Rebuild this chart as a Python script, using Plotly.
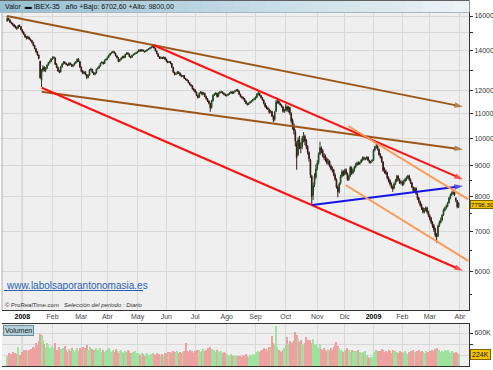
import plotly.graph_objects as go
import pandas as pd

W, H = 493, 370

# ---------------- data (IBEX-35 daily) ----------------
opens = [
    15700, 15850, 15760, 15600, 15550, 15470, 15400, 15310, 15270, 15430, 15360,  # Dic 2007
    15180, 15050, 14900, 14790, 14690, 14750, 14630, 14570, 14460, 14300, 14110, 13960, 13780, 13450, 12500, 12980, 13150, 12980, 13100, 13260, 13390, 13430,  # Ene
    13560, 13630, 13620, 13300, 13140, 12950, 12920, 13170, 13310, 13400, 13340, 13280, 13250, 13340, 13290, 13200, 13270, 13360, 13430, 13550, 13430,  # Feb
    13150, 12960, 12840, 12910, 12770, 12640, 12760, 13010, 13040, 12890, 12790, 12860, 13060, 13110, 13210, 13360, 13390, 13340, 13510,  # Mar
    13560, 13660, 13770, 13860, 13910, 13950, 13870, 13730, 13630, 13460, 13530, 13620, 13710, 13650, 13810, 13890, 13830, 13690, 13660, 13770, 13810, 13870,  # Abr
    13900, 13960, 14040, 13990, 14050, 13980, 13960, 14010, 14070, 14110, 14160, 14210, 14240, 14140, 13990, 13840, 13690, 13610, 13640, 13610, 13650,  # May
    13560, 13440, 13390, 13430, 13340, 13140, 12890, 12790, 12830, 12910, 12840, 12740, 12690, 12730, 12590, 12540, 12490, 12390, 12290, 12240, 12090,  # Jun
    12040, 11940, 11790, 11720, 11910, 11940, 11860, 11890, 11740, 11640, 11540, 11440, 11260, 11560, 11810, 11860, 11890, 11760, 11910, 11940, 11950, 11890, 11840,  # Jul
    11790, 11810, 11860, 11910, 11960, 11890, 11960, 12010, 12060, 11990, 11840, 11740, 11710, 11640, 11540, 11440, 11390, 11460, 11510, 11560, 11610,  # Ago
    11640, 11710, 11840, 11890, 11790, 11690, 11590, 11440, 11310, 11240, 11190, 11060, 11090, 10890, 10760, 11100, 11490, 11540, 11440, 11370, 11290, 11110,  # Sep
    11150, 11290, 11140, 11260, 11000, 10720, 10480, 10250, 9800, 9400, 9950, 9680, 9700, 9980, 10080, 9920, 9690, 9480, 9200, 8650, 8050, 8380, 8620,  # Oct
    8920, 9120, 9420, 9640, 9540, 9340, 9310, 9240, 9090, 9160, 8990, 8890, 8860, 8690, 8540, 8290, 8160, 8420, 8660, 8810,  # Nov
    8710, 8860, 8740, 8540, 8660, 8940, 8760, 8840, 8960, 9040, 9110, 9070, 9130, 9190, 9290, 9240, 9260, 9310, 9190, 9110, 9160,  # Dic
    9200, 9570, 9690, 9710, 9590, 9390, 9310, 9140, 8840, 8810, 8760, 8590, 8510, 8390, 8310, 8260, 8410, 8490, 8660, 8540, 8460,  # Ene 2009
    8440, 8390, 8490, 8540, 8610, 8660, 8540, 8440, 8290, 8170, 8260, 8090, 7960, 7840, 7760, 7660, 7540, 7610, 7660, 7540,  # Feb
    7430, 7360, 7240, 7160, 7060, 6910, 6870, 7160, 7240, 7310, 7460, 7590, 7660, 7710, 7810, 7940, 8060, 8090, 8160, 7950, 7880, 7690,  # Mar
]
highs = [
    15990, 15900, 15800, 15660, 15600, 15520, 15430, 15350, 15460, 15490, 15400,
    15200, 15080, 14950, 14820, 14850, 14780, 14680, 14600, 14480, 14320, 14150, 13990, 13800, 13480, 13050, 13250, 13200, 13150, 13300, 13420, 13500, 13620,
    13700, 13720, 13650, 13350, 13180, 13020, 13200, 13350, 13460, 13450, 13380, 13320, 13400, 13390, 13320, 13300, 13400, 13460, 13600, 13600, 13460,
    13180, 13000, 12950, 12940, 12800, 12800, 13050, 13120, 13060, 12920, 12900, 13080, 13150, 13250, 13380, 13450, 13420, 13540, 13600,
    13700, 13800, 13900, 13960, 14000, 13980, 13900, 13760, 13660, 13560, 13650, 13740, 13740, 13840, 13920, 13920, 13850, 13720, 13800, 13850, 13900, 13950,
    14000, 14090, 14080, 14100, 14070, 14000, 14040, 14100, 14140, 14190, 14240, 14310, 14260, 14160, 14010, 13860, 13720, 13700, 13680, 13700, 13680,
    13580, 13500, 13460, 13460, 13360, 13160, 12920, 12880, 12950, 12940, 12880, 12780, 12760, 12760, 12620, 12580, 12520, 12420, 12330, 12270, 12140,
    12080, 11980, 11830, 11940, 12000, 11970, 11950, 11920, 11780, 11680, 11580, 11460, 11600, 11850, 11900, 11950, 11920, 11940, 12000, 12010, 11990, 11930, 11880,
    11850, 11890, 11940, 11990, 12000, 11980, 12040, 12090, 12100, 12020, 11880, 11780, 11740, 11680, 11580, 11470, 11480, 11540, 11590, 11640, 11700,
    11760, 11900, 11980, 11920, 11820, 11720, 11610, 11470, 11360, 11290, 11210, 11160, 11120, 10920, 11120, 11600, 11620, 11560, 11470, 11400, 11320, 11200,
    11420, 11350, 11330, 11300, 11060, 10800, 10600, 10350, 9900, 10050, 10100, 9850, 10100, 10250, 10150, 9980, 9750, 9520, 9250, 8700, 8450, 8750, 9050,
    9200, 9480, 9880, 9700, 9600, 9450, 9400, 9300, 9250, 9200, 9050, 8980, 8900, 8750, 8580, 8350, 8450, 8700, 8880, 8850,
    8900, 8920, 8780, 8700, 9000, 8980, 8900, 9000, 9100, 9150, 9160, 9150, 9240, 9330, 9330, 9300, 9340, 9330, 9220, 9180, 9240,
    9600, 9720, 9800, 9740, 9620, 9450, 9350, 9160, 8950, 8880, 8800, 8650, 8560, 8450, 8350, 8450, 8560, 8700, 8680, 8580, 8520,
    8500, 8540, 8600, 8650, 8700, 8700, 8580, 8460, 8320, 8300, 8290, 8120, 7990, 7880, 7790, 7680, 7660, 7700, 7700, 7580,
    7480, 7400, 7280, 7200, 7100, 6960, 7180, 7300, 7380, 7480, 7640, 7700, 7760, 7840, 7990, 8100, 8160, 8220, 8180, 7980, 7900, 7830,
]
lows = [
    15650, 15720, 15580, 15500, 15420, 15330, 15250, 15180, 15240, 15340, 15150,
    14980, 14880, 14720, 14620, 14660, 14590, 14520, 14400, 14250, 14080, 13900, 13740, 13550, 12580, 12180, 12900, 12930, 12900, 13050, 13220, 13330, 13400,
    13520, 13580, 13260, 13100, 12920, 12850, 12880, 13120, 13280, 13300, 13250, 13190, 13210, 13260, 13160, 13150, 13230, 13320, 13400, 13420, 13120,
    12900, 12800, 12800, 12740, 12560, 12600, 12730, 12980, 12860, 12760, 12740, 12830, 13030, 13080, 13190, 13330, 13280, 13310, 13480,
    13520, 13620, 13740, 13820, 13880, 13850, 13700, 13600, 13400, 13420, 13500, 13590, 13600, 13620, 13780, 13800, 13660, 13600, 13640, 13740, 13780, 13840,
    13860, 13930, 13960, 13960, 13960, 13910, 13930, 13980, 14040, 14080, 14130, 14180, 14120, 13970, 13820, 13670, 13570, 13580, 13560, 13580, 13520,
    13400, 13350, 13360, 13300, 13100, 12860, 12740, 12760, 12800, 12820, 12700, 12650, 12660, 12560, 12500, 12460, 12360, 12260, 12200, 12060, 11980,
    11900, 11760, 11660, 11690, 11880, 11800, 11830, 11720, 11610, 11500, 11400, 11080, 11220, 11520, 11770, 11820, 11700, 11720, 11870, 11900, 11860, 11800, 11760,
    11740, 11780, 11820, 11880, 11860, 11860, 11930, 11980, 11960, 11820, 11710, 11660, 11610, 11510, 11410, 11350, 11370, 11430, 11480, 11530, 11580,
    11600, 11680, 11800, 11760, 11660, 11560, 11400, 11260, 11190, 11150, 11000, 11020, 10860, 10650, 10700, 11060, 11430, 11400, 11340, 11260, 11050, 11030,
    11100, 11080, 11050, 10950, 10600, 10350, 10150, 9700, 8870, 9350, 9600, 9450, 9600, 9850, 9750, 9600, 9400, 9150, 8600, 7760, 7900, 8300, 8550,
    8850, 9050, 9380, 9450, 9300, 9200, 9150, 9050, 9030, 8950, 8850, 8780, 8650, 8500, 8250, 7980, 8100, 8380, 8600, 8650,
    8680, 8700, 8500, 8500, 8620, 8700, 8720, 8800, 8920, 9000, 9030, 9040, 9100, 9160, 9200, 9200, 9220, 9170, 9090, 9080, 9130,
    9180, 9520, 9620, 9550, 9360, 9260, 9100, 8800, 8740, 8700, 8550, 8450, 8350, 8250, 8150, 8230, 8370, 8460, 8500, 8400, 8380,
    8330, 8350, 8450, 8500, 8560, 8500, 8400, 8260, 8120, 8140, 8060, 7900, 7800, 7700, 7600, 7500, 7500, 7560, 7500, 7400,
    7300, 7200, 7100, 6990, 6850, 6702.6, 6860, 7120, 7220, 7280, 7430, 7560, 7620, 7680, 7790, 7920, 8020, 8060, 8020, 7830, 7650, 7660,
]
closes = [
    15850, 15780, 15620, 15560, 15480, 15390, 15300, 15260, 15420, 15380, 15182,
    15050, 14920, 14780, 14700, 14760, 14640, 14580, 14470, 14290, 14120, 13950, 13780, 13600, 12630, 12950, 13120, 13000, 13080, 13250, 13380, 13420, 13560,
    13620, 13650, 13300, 13150, 12960, 12900, 13160, 13300, 13400, 13350, 13290, 13240, 13350, 13300, 13200, 13260, 13350, 13420, 13560, 13450, 13150,
    12950, 12850, 12900, 12780, 12650, 12750, 13000, 13050, 12900, 12800, 12850, 13050, 13100, 13200, 13350, 13400, 13330, 13500, 13550,
    13650, 13760, 13850, 13900, 13950, 13880, 13740, 13640, 13450, 13520, 13610, 13700, 13640, 13800, 13880, 13840, 13700, 13650, 13760, 13800, 13860, 13900,
    13950, 14050, 14000, 14060, 13990, 13950, 14000, 14060, 14100, 14150, 14200, 14250, 14150, 14000, 13850, 13700, 13600, 13650, 13600, 13660, 13550,
    13450, 13400, 13420, 13350, 13150, 12900, 12800, 12820, 12900, 12850, 12750, 12700, 12720, 12600, 12550, 12500, 12400, 12300, 12250, 12100, 12050,
    11950, 11800, 11700, 11900, 11950, 11850, 11900, 11750, 11650, 11550, 11450, 11250, 11550, 11800, 11850, 11900, 11750, 11900, 11950, 11960, 11900, 11850, 11800,
    11800, 11850, 11900, 11950, 11900, 11950, 12000, 12050, 12000, 11850, 11750, 11700, 11650, 11550, 11450, 11400, 11450, 11500, 11550, 11600, 11650,
    11700, 11850, 11900, 11800, 11700, 11600, 11450, 11300, 11250, 11200, 11050, 11100, 10900, 10750, 11050, 11500, 11550, 11450, 11380, 11300, 11100, 11150,
    11300, 11150, 11280, 11030, 10700, 10500, 10300, 9900, 9300, 9950, 9700, 9650, 10000, 10100, 9900, 9700, 9500, 9250, 8700, 8000, 8350, 8650, 8900,
    9100, 9400, 9650, 9550, 9350, 9300, 9250, 9100, 9150, 9000, 8900, 8850, 8700, 8550, 8300, 8150, 8400, 8650, 8800, 8700,
    8850, 8750, 8550, 8650, 8950, 8750, 8850, 8950, 9050, 9100, 9080, 9120, 9200, 9280, 9250, 9270, 9300, 9200, 9120, 9150, 9196,
    9560, 9680, 9720, 9600, 9400, 9300, 9150, 8850, 8800, 8750, 8600, 8500, 8400, 8300, 8250, 8400, 8500, 8650, 8550, 8450, 8450,
    8400, 8480, 8550, 8600, 8650, 8550, 8450, 8300, 8180, 8250, 8100, 7950, 7850, 7750, 7650, 7550, 7600, 7650, 7550, 7450,
    7350, 7250, 7150, 7050, 6900, 6850, 7150, 7250, 7300, 7450, 7600, 7650, 7700, 7800, 7950, 8050, 8100, 8150, 8050, 7900, 7700, 7798.3,
]
volumes_k = [
    180, 240, 210, 220, 250, 200, 230, 210, 340, 200, 150,
    260, 290, 280, 300, 270, 290, 310, 300, 350, 330, 420, 380, 450, 580, 560, 480, 400, 350, 420, 380, 330, 300,
    360, 330, 420, 300, 280, 340, 310, 270, 330, 360, 290, 260, 310, 280, 330, 300, 250, 290, 320, 270, 330,
    310, 340, 290, 330, 380, 300, 350, 280, 310, 290, 260, 330, 300, 280, 320, 260, 290, 250, 270,
    300, 330, 280, 260, 290, 250, 310, 280, 240, 270, 300, 260, 230, 280, 250, 300, 270, 240, 220, 260, 280, 240,
    230, 210, 200, 240, 220, 190, 210, 230, 200, 180, 220, 240, 210, 200, 230, 190, 210, 180, 220, 200, 230,
    220, 250, 230, 260, 240, 280, 250, 230, 270, 240, 260, 230, 250, 280, 420, 270, 250, 300, 260, 280, 240,
    270, 300, 260, 290, 250, 280, 310, 270, 300, 330, 290, 340, 310, 280, 300, 260, 290, 270, 250, 280, 240, 260, 230,
    220, 200, 190, 210, 180, 200, 170, 190, 180, 160, 190, 170, 200, 180, 210, 190, 170, 200, 180, 220, 200,
    260, 240, 280, 250, 270, 300, 330, 290, 310, 280, 340, 350, 540, 420, 380, 720, 350, 300, 280, 260, 300, 330,
    380, 520, 400, 450, 420, 440, 480, 620, 560, 500, 430, 470, 400, 380, 420, 530, 480, 400, 470, 420, 500, 380, 400,
    350, 320, 400, 310, 290, 330, 300, 280, 310, 290, 330, 300, 340, 380, 430, 360, 320, 300, 280, 260,
    300, 280, 320, 290, 260, 300, 250, 280, 270, 240, 300, 260, 230, 250, 220, 280, 200, 160, 150, 170, 160,
    230, 260, 300, 280, 250, 270, 310, 290, 260, 280, 250, 300, 270, 240, 290, 260, 280, 250, 230, 270, 240,
    250, 230, 270, 240, 220, 260, 280, 240, 300, 250, 230, 270, 290, 260, 280, 250, 240, 270, 230, 260,
    280, 260, 300, 270, 310, 320, 290, 300, 260, 280, 250, 290, 270, 300, 260, 240, 280, 250, 230, 260, 240, 224,
]

# hand-drawn trend lines: (start bar, start price, end bar, end price, colour, arrow)
trendlines = [
    (-0.15, 16000, 332.2, 11298, '#9b5618', True),
    (25.14, 11967, 332.2, 9587, '#9b5618', True),
    (106.48, 14316, 332.2, 8548, '#ff1010', True),
    (25.14, 12152, 332.2, 6021, '#ff1010', True),
    (222.4, 7748, 332.2, 8334, '#1414e6', True),
    (248.6, 10492, 336.1, 7919, '#ff9a55', False),
    (246.7, 8365, 336.1, 6250, '#ff9a55', False),
]

month_names = ['2008', 'Feb', 'Mar', 'Abr', 'May', 'Jun', 'Jul', 'Ago', 'Sep', 'Oct',
               'Nov', 'Dic', '2009', 'Feb', 'Mar', 'Abr']
price_ticks = [16000, 15000, 14000, 13000, 12000, 11000, 10000, 9000, 8000, 7000, 6000]
price_tick_text = ['16000', '', '14000', '', '12000', '11000', '10000', '9000', '8000', '7000', '6000']
minor_price_ticks = [8500, 7500, 6500, 5500]
last_price_label = '7798,30'
last_volume_label = '224K'

# ---------------- trading calendar (bar positions) ----------------
holidays = pd.to_datetime(['2007-12-25', '2007-12-26', '2008-01-01', '2008-03-21', '2008-03-24',
                           '2008-05-01', '2008-12-25', '2008-12-26', '2009-01-01'])
cal = pd.bdate_range('2007-12-13', '2009-04-03')
cal = cal[~cal.isin(holidays)]
n = len(closes)
assert len(opens) == n and len(highs) == n and len(lows) == n and len(volumes_k) == n, (
    len(opens), len(highs), len(lows), len(closes), len(volumes_k))
xs = list(range(n))
month_pos = []
prev = None
for i, d in enumerate(cal):
    key = (d.year, d.month)
    if key != prev and d >= pd.Timestamp('2008-01-01'):
        month_pos.append(i)
    prev = key
month_pos = month_pos[:len(month_names)]
month_text = [('<b><span style="color:#000">%s</span></b>' % m) if m in ('2008', '2009') else m
              for m in month_names]
year_pos = [month_pos[0], month_pos[12]]

# ---------------- figure ----------------
def px(x):
    return x / W

def py(y):
    return 1 - y / H

XR = [-3.8, 336.6]
fig = go.Figure()
fig.add_trace(go.Candlestick(
    x=xs, open=opens, high=highs, low=lows, close=closes,
    increasing=dict(line=dict(color='#1c461c', width=1), fillcolor='#3f9c3f'),
    decreasing=dict(line=dict(color='#3a1414', width=1), fillcolor='#8e2b2b'),
    whiskerwidth=0, xaxis='x', yaxis='y', showlegend=False, hoverinfo='skip'))

for (x0, p0, x1, p1, col, arrow) in trendlines:
    fig.add_trace(go.Scatter(
        x=[x0, x1], y=[p0, p1], mode='lines+markers' if arrow else 'lines',
        line=dict(color=col, width=2),
        marker=dict(symbol=['circle', 'arrow'], size=[0, 9], angleref='previous', color=col,
                    line=dict(width=0)),
        xaxis='x', yaxis='y', showlegend=False, hoverinfo='skip', cliponaxis=False))

vcolors = ['#9de29d' if c >= o else '#efa0a0' for o, c in zip(opens, closes)]
fig.add_trace(go.Bar(x=xs, y=volumes_k, marker=dict(color=vcolors, line=dict(width=0)),
                     width=0.75, xaxis='x2', yaxis='y2', showlegend=False, hoverinfo='skip'))

grid = '#d8d8d8'
fig.update_layout(
    width=W, height=H, margin=dict(l=0, r=0, t=0, b=0),
    paper_bgcolor='white', plot_bgcolor='#efefef', showlegend=False,
    font=dict(family='Liberation Sans, Arial, sans-serif', size=7, color='#333'),
    xaxis=dict(domain=[px(2), px(469)], range=XR, anchor='y', tickmode='array',
               tickvals=month_pos, ticktext=month_text, ticks='', showgrid=True,
               gridcolor=grid, gridwidth=1, showline=True, linecolor='#333', zeroline=False,
               rangeslider=dict(visible=False), tickfont=dict(size=7, color='#444')),
    yaxis=dict(domain=[py(310), 1], type='log', range=[3.71417, 4.23083], side='right',
               anchor='x', tickmode='array', tickvals=price_ticks, ticktext=price_tick_text,
               ticks='outside', ticklen=3, tickcolor='#333', showgrid=True, gridcolor=grid,
               showline=True, linecolor='#333', zeroline=False, tickfont=dict(size=7, color='#333'),
               minor=dict(tickmode='array', tickvals=minor_price_ticks, ticks='outside', ticklen=2,
                          tickcolor='#333', showgrid=False)),
    xaxis2=dict(domain=[px(2), px(469)], range=XR, anchor='y2', tickmode='array',
                tickvals=month_pos, showticklabels=False, ticks='', showgrid=True, gridcolor=grid,
                showline=True, mirror=True, linecolor='#333', zeroline=False),
    yaxis2=dict(domain=[py(366), py(324)], range=[0, 763.6], side='right', anchor='x2',
                tickmode='array', tickvals=[200, 400, 600], ticktext=['', '', '600K'],
                ticks='outside', ticklen=3, tickcolor='#333', showgrid=True, gridcolor=grid,
                showline=True, linecolor='#333', zeroline=False, tickfont=dict(size=7, color='#333')),
    bargap=0,
)

shapes = []
# year separators
for yp in year_pos:
    shapes.append(dict(type='line', xref='x', yref='paper', x0=yp, x1=yp, y0=py(310), y1=py(12),
                       line=dict(color='#9a9a9a', width=1), layer='below'))
    shapes.append(dict(type='line', xref='x2', yref='paper', x0=yp, x1=yp, y0=py(366), y1=py(324),
                       line=dict(color='#9a9a9a', width=1), layer='below'))
# left border
shapes.append(dict(type='line', xref='paper', yref='paper', x0=px(2), x1=px(2), y0=py(310), y1=1,
                   line=dict(color='#b0b0b0', width=1)))
# header gradient bar
c0 = (150, 192, 210)
c1 = (236, 242, 245)
steps = 30
for k in range(steps):
    t = k / (steps - 1)
    col = 'rgb(%d,%d,%d)' % tuple(round(a + (b - a) * t) for a, b in zip(c0, c1))
    shapes.append(dict(type='rect', xref='paper', yref='paper',
                       x0=px(469 * k / steps), x1=px(469 * (k + 1) / steps + 0.5),
                       y0=py(12.5), y1=1, fillcolor=col, line=dict(width=0), layer='above'))
shapes.append(dict(type='line', xref='paper', yref='paper', x0=0, x1=px(469), y0=py(12.5), y1=py(12.5),
                   line=dict(color='#a8b8c0', width=1), layer='above'))
shapes.append(dict(type='line', xref='paper', yref='paper', x0=0, x1=px(469), y0=py(0.5), y1=py(0.5),
                   line=dict(color='#606060', width=1), layer='above'))
# url underline
shapes.append(dict(type='line', xref='paper', yref='paper', x0=px(4), x1=px(143), y0=py(290.5),
                   y1=py(290.5), line=dict(color='#2b5fb4', width=1), layer='above'))
fig.update_layout(shapes=shapes)

ann = []
ann.append(dict(xref='paper', yref='paper', x=px(3), y=py(6.5), xanchor='left', yanchor='middle',
                text='Valor  <b>▬</b> IBEX-35   año +Bajo: 6702,60 +Alto: 9800,00', showarrow=False,
                font=dict(size=7, color='#111')))
ann.append(dict(xref='paper', yref='paper', x=px(4), y=py(285.5), xanchor='left', yanchor='middle',
                text='www.labolsaporantonomasia.es', showarrow=False,
                font=dict(size=10, color='#2b5fb4')))
ann.append(dict(xref='paper', yref='paper', x=px(3), y=py(304.5), xanchor='left', yanchor='middle',
                text='© ProRealTime.com   <i>Selección del periodo : Diario</i>', showarrow=False,
                font=dict(size=6, color='#333')))
ann.append(dict(xref='paper', yref='paper', x=px(3), y=py(330), xanchor='left', yanchor='middle',
                text='Volumen', showarrow=False, bgcolor='#b4d0dd', bordercolor='#6f8c9b',
                borderwidth=1, borderpad=1, font=dict(size=7, color='#222')))
ann.append(dict(xref='paper', yref='paper', x=px(469.5), y=py(204), xanchor='left', yanchor='middle',
                text=last_price_label, showarrow=False, bgcolor='#f4c400', bordercolor='#806400',
                borderwidth=1, borderpad=0, font=dict(size=6.2, color='#111')))
ann.append(dict(xref='paper', yref='paper', x=px(470), y=py(354), xanchor='left', yanchor='middle',
                text=last_volume_label, showarrow=False, bgcolor='#f4c400', bordercolor='#806400',
                borderwidth=1, borderpad=1, font=dict(size=7, color='#111')))
fig.update_layout(annotations=ann)

fig.write_html('out.html', config={'displayModeBar': False},
               post_script="document.body.style.margin='0px';document.body.style.overflow='hidden';")
